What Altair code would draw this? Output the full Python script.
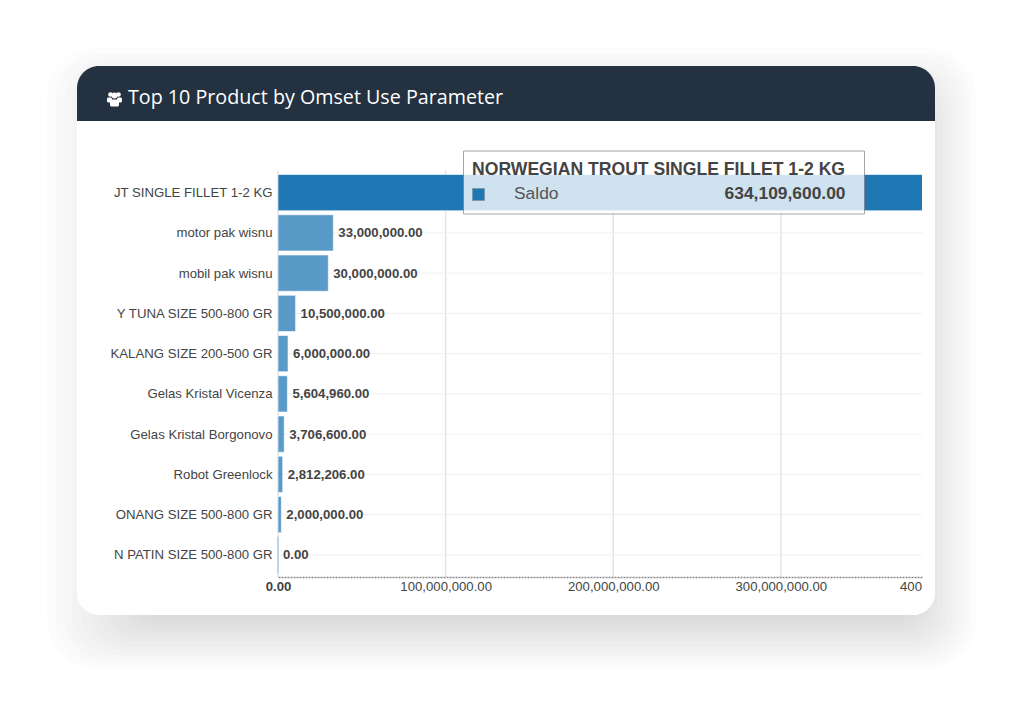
import altair as alt
import pandas as pd

# ---- values ----
categories = [
    "JT SINGLE FILLET 1-2 KG", "motor pak wisnu", "mobil pak wisnu",
    "Y TUNA SIZE 500-800 GR", "KALANG SIZE 200-500 GR", "Gelas Kristal Vicenza",
    "Gelas Kristal Borgonovo", "Robot Greenlock", "ONANG SIZE 500-800 GR",
    "N PATIN SIZE 500-800 GR",
]
saldo = [634109600, 33000000, 30000000, 10500000, 6000000, 5604960, 3706600, 2812206, 2000000, 0]
x_ticks = [0, 100000000, 200000000, 300000000]
clipped_tick = "400"
card_title = "Top 10 Product by Omset Use Parameter"
tip_title = "NORWEGIAN TROUT SINGLE FILLET 1-2 KG"
tip_series = "Saldo"
tip_value = "634,109,600.00"

BLUE = "#1f77b4"
DARK = "#233140"
FONT = "Liberation Sans"
TEXT = 13.2

# plot area in page pixels
PX0, PX1, PY0, PY1 = 278, 922, 170.5, 577
W, H = PX1 - PX0, PY1 - PY0
XMAX = 384200000


def X(v):
    return alt.value(v - PX0)


def Y(v):
    return alt.value(v - PY0)


blank = alt.Data(values=[{"k": 0}])


def box(x0, x1, y0, y1, fill, **kw):
    return alt.Chart(blank).mark_rect(fill=fill, **kw).encode(
        x=X(x0), x2=X(x1), y=Y(y0), y2=Y(y1))


def label(x, y, text, size, color, **kw):
    return alt.Chart(pd.DataFrame({"t": [text]})).mark_text(
        fontSize=size, color=color, baseline="middle", **kw
    ).encode(x=X(x), y=Y(y), text="t:N")


# soft shadow around the card
layers = []
N = 12
for i in range(N):
    t = i / (N - 1)
    layers.append(box(47 + t * 93, 976 - t * 61, 48 + t * 62, 668 - t * 48, "#000000",
                      opacity=0.01, cornerRadius=48 - t * 26))

# card and header
layers.append(box(77, 935, 66, 615, "#ffffff", cornerRadius=22))
layers.append(box(77, 935, 66, 121, DARK, cornerRadiusTopLeft=22, cornerRadiusTopRight=22))
layers.append(label(128, 97.5, card_title, 19.7, "#ffffff", align="left", font="Open Sans"))

# header icon: three small figures
for cx, cy, r, bx0, bx1, by0, by1 in [
    (110.5, 94.5, 2.4, 107, 112, 97.5, 102.5),
    (118.5, 94.5, 2.4, 117, 122, 97.5, 102.5),
    (114.5, 95.5, 3.0, 110, 119, 99.5, 106.5),
]:
    layers.append(alt.Chart(blank).mark_point(filled=True, fill="#ffffff", opacity=1,
                                              size=(2 * r) ** 2 * 0.95, shape="circle").encode(
        x=X(cx), y=Y(cy)))
    layers.append(box(bx0, bx1, by0, by1, "#ffffff", cornerRadius=1.5))

# chart data
df = pd.DataFrame({"product": categories, "saldo": saldo,
                   "text": [f"{v:,.2f}" for v in saldo]})
df["shade"] = ["top"] + ["rest"] * (len(df) - 1)

x_scale = alt.Scale(domain=[0, XMAX], nice=False, zero=True)
y_scale = alt.Scale(domain=categories, paddingInner=0.1, paddingOuter=0.1)

# grid
layers.append(alt.Chart(pd.DataFrame({"saldo": x_ticks})).mark_rule(
    color="#e3e3e3", strokeWidth=1.4).encode(x=alt.X("saldo:Q", scale=x_scale)))
layers.append(alt.Chart(df).mark_rule(color="#efefef", strokeWidth=1).encode(
    y=alt.Y("product:N", scale=y_scale, sort=categories)))

# bars, on the real axes
bars = alt.Chart(df).mark_bar(clip=True, stroke="#ffffff", strokeWidth=0.6).encode(
    x=alt.X("saldo:Q", scale=x_scale, title=None,
            axis=alt.Axis(values=x_ticks, format=",.2f", zindex=1, grid=False, ticks=False,
                          domainColor="#8a8a8a", domainWidth=1.5, domainDash=[2, 1],
                          labelFont=FONT, labelFontSize=TEXT, labelColor="#444444",
                          labelPadding=3, labelOverlap=False, labelFlush=False,
                          labelFontWeight={"condition": {"test": "datum.value === 0",
                                                         "value": "bold"},
                                           "value": "normal"})),
    y=alt.Y("product:N", scale=y_scale, sort=categories, title=None,
            axis=alt.Axis(zindex=1, grid=False, ticks=False, domain=False,
                          labelFont=FONT, labelFontSize=TEXT, labelColor="#444444",
                          labelPadding=6, labelLimit=170, labelOffset=0.5)),
    color=alt.Color("shade:N", legend=None,
                    scale=alt.Scale(domain=["top", "rest"], range=[BLUE, "#5a9ac8"])),
)
layers.append(bars)

# a zero bar is only a hairline
layers.append(alt.Chart(df[df["saldo"] == 0]).mark_rule(color="#a9cce5", strokeWidth=1.5).encode(
    x=alt.X("saldo:Q", scale=x_scale),
    y=alt.Y("product:N", scale=y_scale, sort=categories, bandPosition=0),
    y2=alt.Y2("product:N", bandPosition=1),
))

# value labels
layers.append(alt.Chart(df.iloc[1:]).mark_text(
    align="left", baseline="middle", dx=5, dy=0.5, font=FONT, fontSize=TEXT, fontWeight="bold",
    color="#444444").encode(
    x=alt.X("saldo:Q", scale=x_scale),
    y=alt.Y("product:N", scale=y_scale, sort=categories),
    text="text:N"))

# the next tick label, cut by the edge of the plot
layers.append(label(PX1, 586.5, clipped_tick, TEXT, "#444444", align="right", font=FONT))

# tooltip
layers.append(box(463.5, 864.5, 151, 214, "#ffffff", opacity=0.79,
                  stroke="#8f8f8f", strokeWidth=1))
layers.append(label(472, 170, tip_title, 17.6, "#444444", align="left", font=FONT, fontWeight="bold"))
layers.append(box(472.5, 484.5, 188.5, 200.5, BLUE, stroke="#7f8f9f", strokeWidth=0.7))
layers.append(label(514, 194, tip_series, 17.4, "#555555", align="left", font=FONT))
layers.append(label(845.5, 194, tip_value, 17.4, "#444444", align="right", font=FONT, fontWeight="bold"))

chart = alt.layer(*layers).properties(
    width=W, height=H,
    padding={"left": PX0 - 8, "top": PY0 - 8, "right": 1016 - PX1, "bottom": 707 - PY1},
    autosize=alt.AutoSizeParams(type="none"),
    background="#ffffff",
).configure_view(stroke=None)

chart.save("out.html", embed_options={"renderer": "svg", "actions": False})
